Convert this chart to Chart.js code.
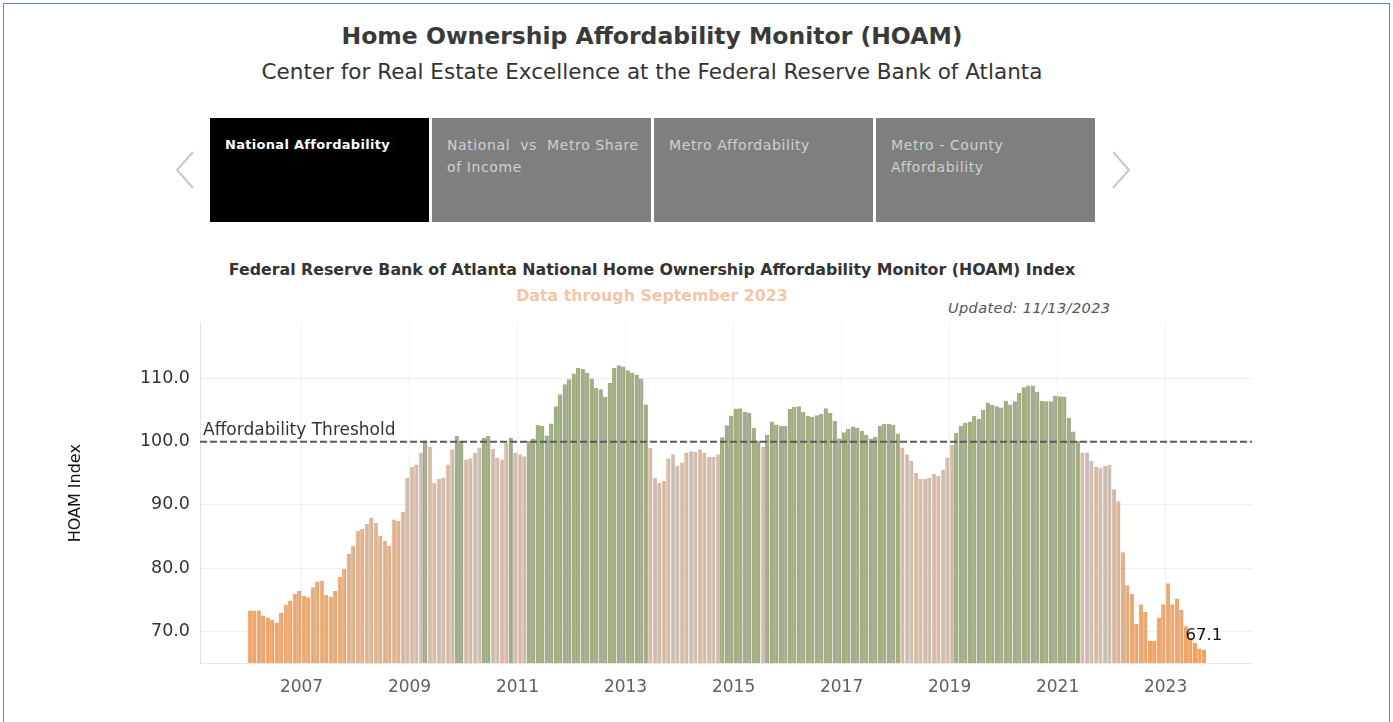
<!DOCTYPE html>
<html>
<head>
<meta charset="utf-8">
<script src="https://cdn.jsdelivr.net/npm/chart.js@4.4.0/dist/chart.umd.min.js"></script>
<style>
  html, body { margin: 0; padding: 0; background: #fff; }
  body { width: 1393px; height: 722px; position: relative; overflow: hidden; font-family: "DejaVu Sans", sans-serif; color: #333; }
  .frame { position: absolute; left: 3px; top: 3px; width: 1385px; height: 740px; border: 1px solid #5f80d2; }
  .title { position: absolute; left: 0; width: 1304px; top: 22px; text-align: center; font-size: 23.5px; font-weight: 700; color: #3a3a3a; }
  .subtitle { position: absolute; left: 0; width: 1304px; top: 59px; text-align: center; font-size: 21.5px; color: #333; }
  .tab { position: absolute; top: 118px; width: 219px; height: 104px; background: #7f7f7f; color: #cfcfcf; font-size: 14px; letter-spacing: 0.6px; line-height: 22px; box-sizing: border-box; padding: 16px 6px 0 15px; }
  .tab.active { background: #000; color: #fff; font-weight: 700; font-size: 13px; letter-spacing: 0.3px; }
  .ctitle { position: absolute; left: 0; width: 1304px; top: 260px; text-align: center; font-size: 15.8px; font-weight: 700; color: #333; }
  .csub { position: absolute; left: 0; width: 1304px; top: 286px; text-align: center; font-size: 15.8px; font-weight: 700; color: #f3c6a6; }
  .updated { position: absolute; left: 948px; top: 300px; font-size: 14.5px; letter-spacing: 0.4px; font-style: italic; color: #555; }
  #wrap { position: absolute; left: 0; top: 303px; width: 1393px; height: 419px; }
</style>
</head>
<body>
<div class="frame"></div>
<div class="title">Home Ownership Affordability Monitor (HOAM)</div>
<div class="subtitle">Center for Real Estate Excellence at the Federal Reserve Bank of Atlanta</div>

<svg style="position:absolute;left:0;top:0" width="1393" height="240">
  <polyline points="193,152 177,170 193,188" fill="none" stroke="#c8c8c8" stroke-width="2"/>
  <polyline points="1113,152 1129,170 1113,188" fill="none" stroke="#c8c8c8" stroke-width="2"/>
</svg>
<div class="tab active" style="left:210px">National Affordability</div>
<div class="tab" style="left:432px">National &nbsp;vs &nbsp;Metro Share<br>of Income</div>
<div class="tab" style="left:654px">Metro Affordability</div>
<div class="tab" style="left:876px">Metro - County<br>Affordability</div>

<div class="ctitle">Federal Reserve Bank of Atlanta National Home Ownership Affordability Monitor (HOAM) Index</div>
<div class="csub">Data through September 2023</div>
<div class="updated">Updated: 11/13/2023</div>

<div id="wrap"><canvas id="hoamChart" width="1393" height="419"></canvas></div>

<script>
// monthly index, Jan 2006 .. Sep 2023
const startYear = 2006;
const hoamIndex = [
    73.3, 73.3, 73.3, 72.5, 72.2, 71.8, 71.4, 73.0, 74.2, 74.9, 75.9, 76.4,            // 2006
    75.6, 75.4, 77.0, 77.9, 78.0, 75.8, 75.5, 76.4, 78.6, 79.9, 82.3, 83.5,            // 2007
    85.9, 86.2, 87.0, 88.0, 87.2, 85.1, 84.3, 83.5, 87.7, 87.5, 88.9, 94.3,            // 2008
    96.0, 96.4, 98.3, 100.2, 99.2, 93.5, 94.1, 94.3, 96.4, 98.8, 100.9, 100.1,         // 2009
    97.2, 97.4, 98.3, 99.1, 100.6, 100.9, 98.9, 97.5, 97.2, 99.8, 100.6, 98.3,         // 2010
    98.0, 97.7, 100.1, 100.5, 102.7, 102.5, 101.0, 102.9, 105.6, 107.5, 109.1, 109.9,  // 2011
    110.8, 111.7, 111.5, 110.9, 110.0, 108.5, 108.3, 107.1, 109.3, 111.7, 112.1, 111.9,// 2012
    111.3, 110.9, 110.6, 110.0, 105.9, 99.0, 94.3, 93.5, 93.8, 97.4, 98.0, 96.2,       // 2013
    96.7, 98.3, 98.5, 98.4, 98.8, 98.3, 97.6, 97.6, 98.0, 100.7, 102.6, 104.1,         // 2014
    105.2, 105.3, 104.7, 104.6, 102.2, 100.2, 99.2, 101.1, 103.2, 102.7, 102.5, 102.5, // 2015
    105.2, 105.5, 105.6, 104.7, 104.1, 103.9, 104.2, 104.4, 105.3, 104.6, 103.3, 100.5,// 2016
    101.5, 102.0, 102.4, 102.2, 101.7, 101.1, 100.5, 100.8, 102.5, 102.8, 102.8, 102.7,// 2017
    101.3, 99.1, 98.0, 97.0, 95.1, 94.1, 94.1, 94.3, 94.9, 94.6, 95.6, 97.5,           // 2018
    99.5, 101.4, 102.5, 103.0, 103.2, 104.1, 103.6, 105.0, 106.2, 105.8, 105.6, 105.4, // 2019
    106.5, 105.9, 106.4, 107.7, 108.6, 108.9, 108.9, 107.9, 106.5, 106.4, 106.4, 107.3,// 2020
    107.2, 107.1, 103.8, 101.6, 100.1, 98.3, 98.3, 97.0, 96.0, 95.9, 96.2, 96.3,       // 2021
    92.5, 90.6, 82.5, 77.3, 75.9, 71.2, 74.3, 73.1, 68.5, 68.5, 72.2, 74.3,            // 2022
    77.6, 74.3, 75.2, 73.4, 70.8, 69.0, 68.2, 67.3, 67.1                               // 2023
];
const yearLabels = ['2007', '2009', '2011', '2013', '2015', '2017', '2019', '2021', '2023'];
const yTickValues = [70, 80, 90, 100, 110];
const threshold = 100;

function mix(a, b, t) {
    return 'rgb(' + a.map((c, k) => Math.round(c + (b[k] - c) * t)).join(',') + ')';
}

const fills = hoamIndex.map(v => {
    if (v >= threshold) return '#a3ab8d';
    const t = Math.min(1, Math.max(0, (v - 68) / (96 - 68)));
    return mix([241, 160, 96], [205, 189, 177], t);
});
const borders = hoamIndex.map(v => {
    if (v >= threshold) return '#6f8f35';
    const t = Math.min(1, Math.max(0, (v - 68) / (96 - 68)));
    return mix([242, 132, 36], [232, 182, 150], t);
});

const thresholdLine = {
    id: 'thresholdLine',
    afterDatasetsDraw(chart) {
        const { ctx, chartArea, scales } = chart;
        const y = scales.y.getPixelForValue(threshold);
        ctx.save();
        ctx.strokeStyle = '#5a5a5a';
        ctx.lineWidth = 2;
        ctx.setLineDash([7, 3]);
        ctx.beginPath();
        ctx.moveTo(chartArea.left, y);
        ctx.lineTo(chartArea.right, y);
        ctx.stroke();
        ctx.setLineDash([]);
        ctx.fillStyle = '#333';
        ctx.font = '17px "DejaVu Sans", sans-serif';
        ctx.textBaseline = 'bottom';
        ctx.fillText('Affordability Threshold', chartArea.left + 3, y - 3);

        // last value label
        const last = hoamIndex.length - 1;
        const lx = scales.x.getPixelForValue(last);
        const ly = scales.y.getPixelForValue(hoamIndex[last]);
        ctx.fillStyle = '#111';
        ctx.font = '16.5px "DejaVu Sans", sans-serif';
        ctx.textAlign = 'center';
        ctx.fillText(hoamIndex[last].toFixed(1), lx, ly - 6);
        ctx.restore();
    }
};

const tickFont = { family: '"DejaVu Sans", sans-serif', size: 17 };

new Chart(document.getElementById('hoamChart').getContext('2d'), {
    type: 'bar',
    data: {
        datasets: [{
            data: hoamIndex.map((v, i) => ({ x: i, y: v })),
            backgroundColor: fills,
            borderColor: borders,
            borderWidth: { left: 1, top: 0, right: 0, bottom: 0 },
            borderSkipped: false,
            barPercentage: 0.95,
            categoryPercentage: 1.0
        }]
    },
    options: {
        responsive: false,
        animation: false,
        layout: { padding: { left: 66, right: 141, top: 0, bottom: 0 } },
        plugins: { legend: { display: false }, tooltip: { enabled: false } },
        scales: {
            x: {
                type: 'linear',
                offset: false,
                min: -11.06,
                max: 222.7,
                afterBuildTicks: s => { s.ticks = yearLabels.map(y => ({ value: (Number(y) - startYear) * 12 - 0.5 })); },
                afterFit: s => { s.height = 59; },
                ticks: {
                    autoSkip: false,
                    maxRotation: 0,
                    padding: 14,
                    color: '#606060',
                    font: tickFont,
                    callback: v => String(startYear + Math.round((v + 0.5) / 12))
                },
                grid: { color: '#efefef', drawTicks: false, offset: false },
                border: { display: true, color: '#e8e8e8' }
            },
            y: {
                min: 65,
                max: 118.7,
                afterBuildTicks: s => { s.ticks = yTickValues.map(v => ({ value: v })); },
                afterFit: s => { s.width = 134; },
                ticks: {
                    padding: 10,
                    color: '#333',
                    font: { family: '"DejaVu Sans", sans-serif', size: 17.5 },
                    callback: v => v.toFixed(1)
                },
                grid: { color: '#efefef', drawTicks: false },
                border: { display: true, color: '#e4e4e4' },
                title: {
                    display: true,
                    text: 'HOAM Index',
                    color: '#111',
                    padding: 0,
                    font: { family: '"DejaVu Sans", sans-serif', size: 16 }
                }
            }
        }
    },
    plugins: [thresholdLine]
});
</script>
</body>
</html>
